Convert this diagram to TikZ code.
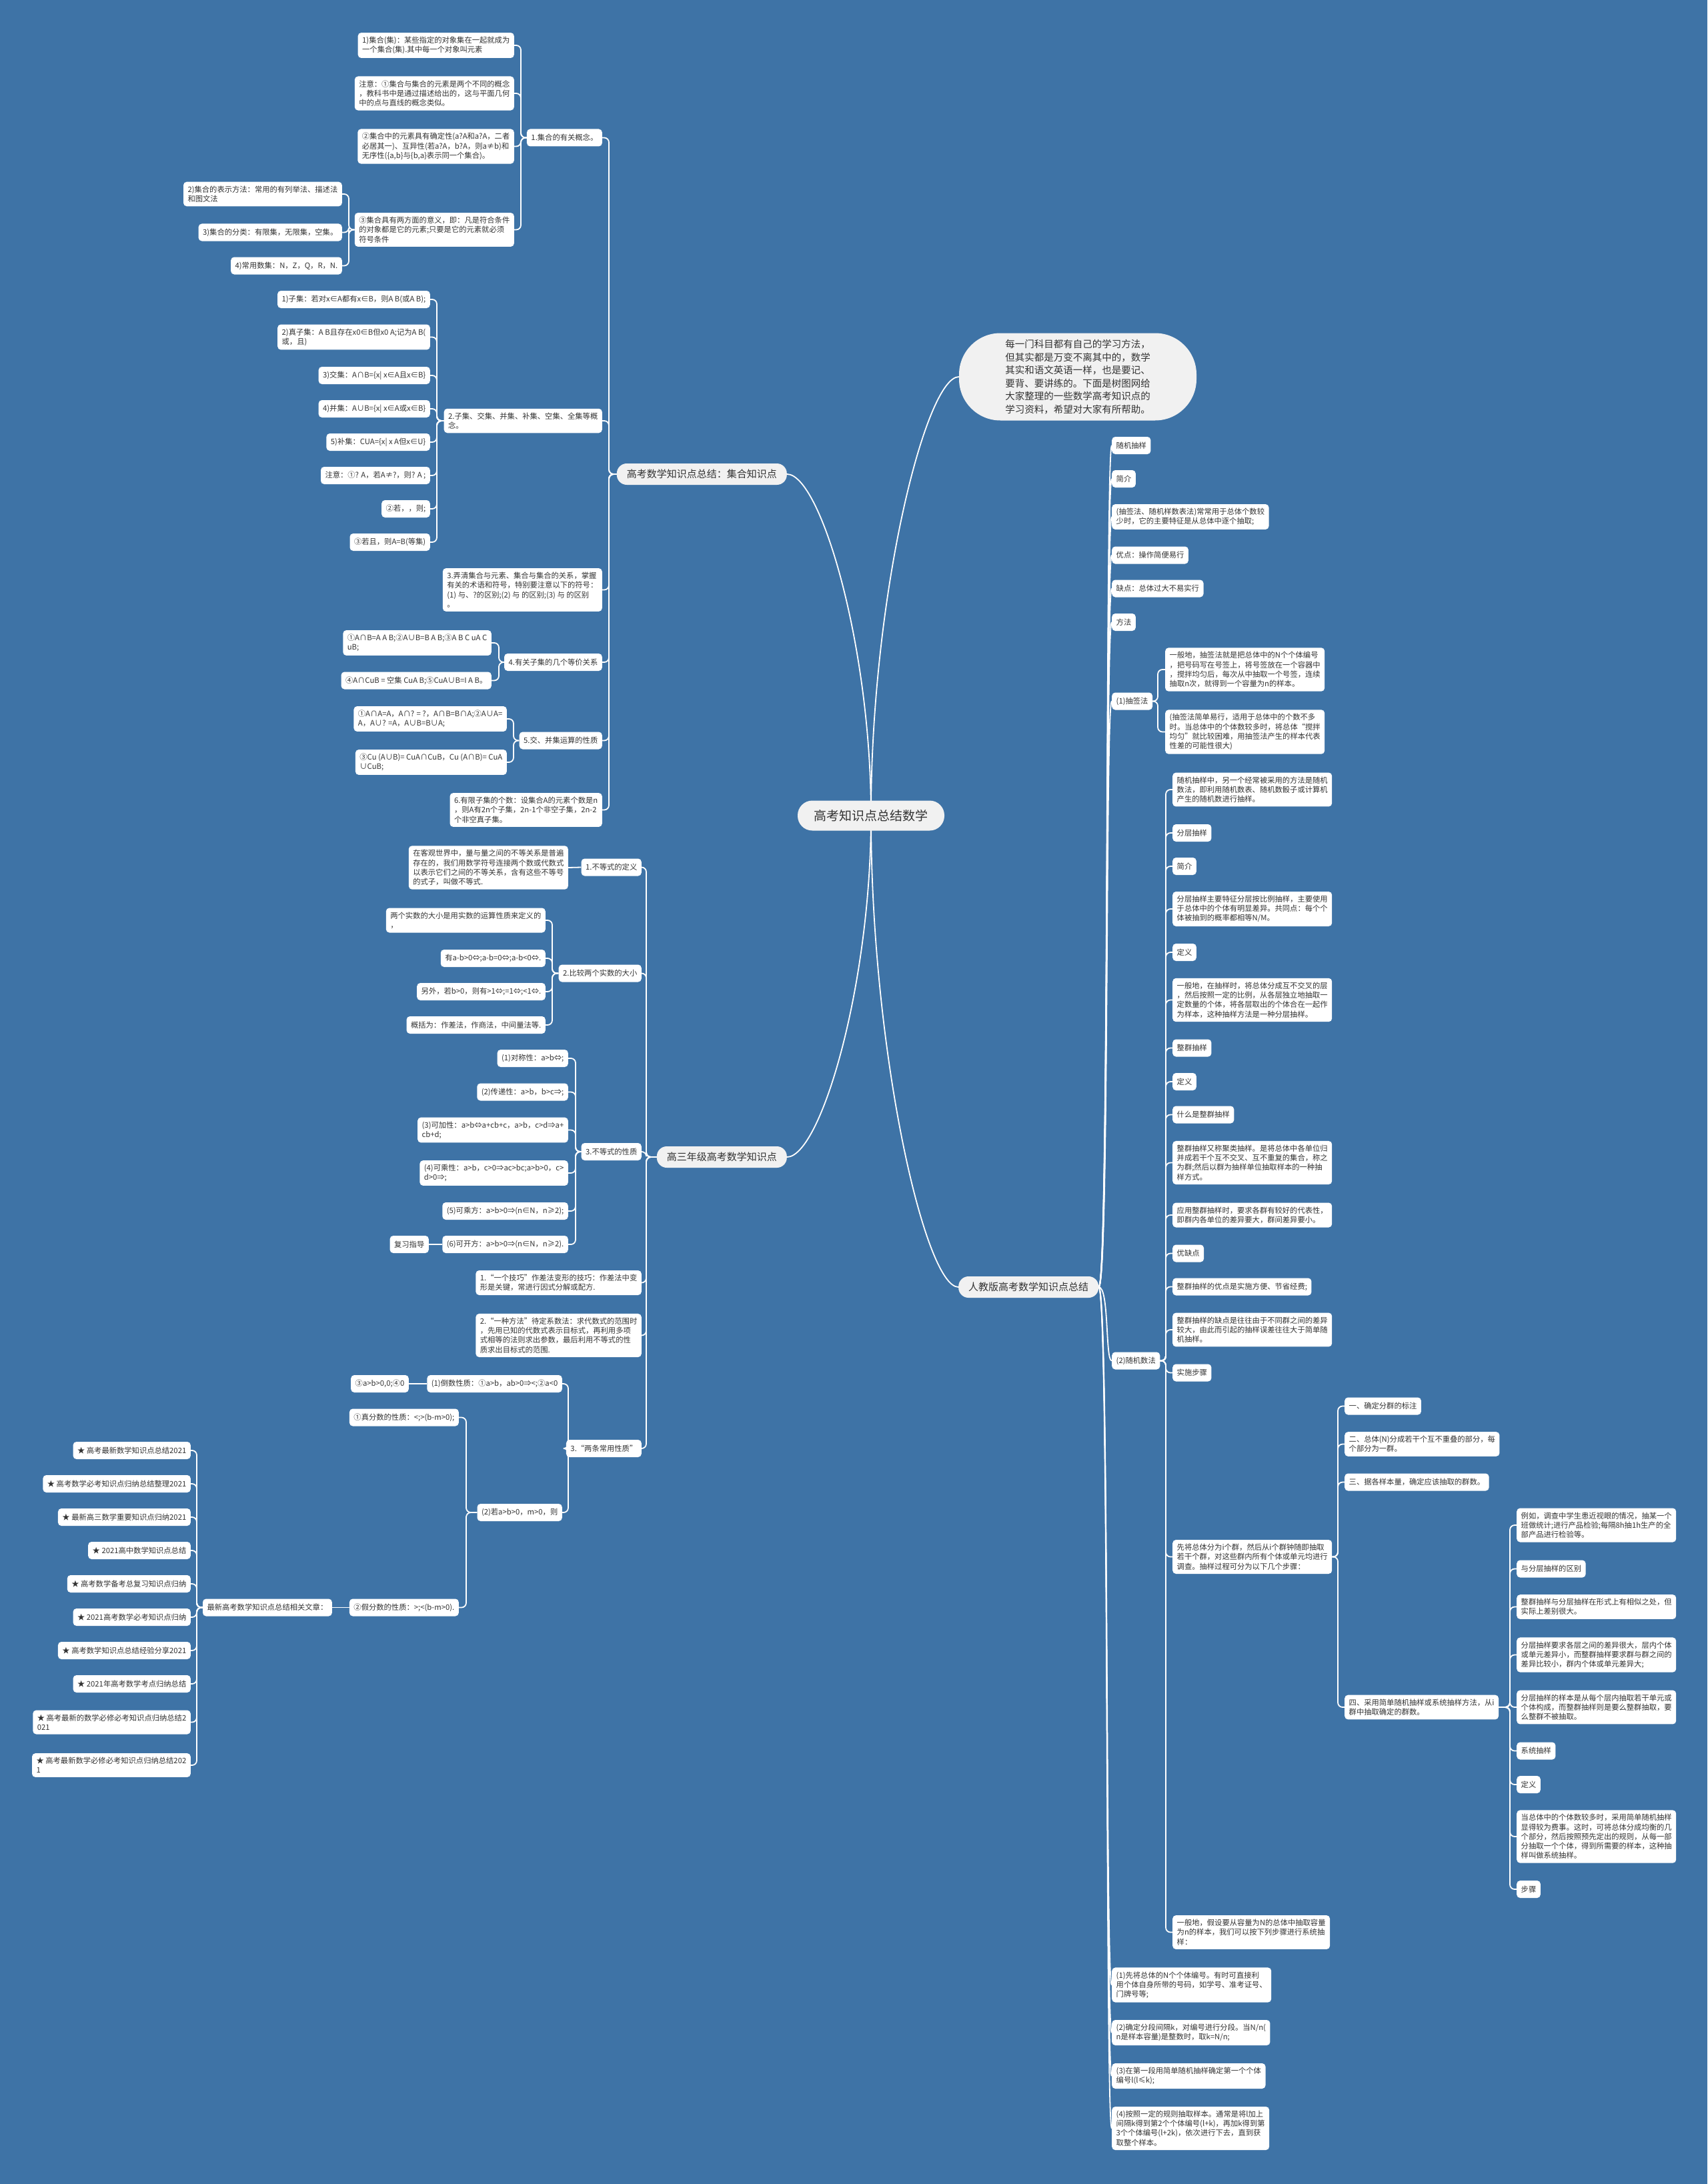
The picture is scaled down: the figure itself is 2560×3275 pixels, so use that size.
\documentclass[tikz,border=0pt]{standalone}
\usepackage{fontspec}
\setmainfont{Noto Sans CJK SC}
\usetikzlibrary{positioning,backgrounds}

\definecolor{bgblue}{HTML}{3E73A6}
\definecolor{lvlfill}{HTML}{F1F1F1}
\definecolor{inktext}{HTML}{333333}
\newcommand\leaffont{\fontsize{11.3}{14.2}\selectfont}
\newcommand\lvlfont{\fontsize{15}{18}\selectfont}
\newcommand\rootfont{\fontsize{19}{22}\selectfont}
\newcommand\introfont{\fontsize{14.5}{19.5}\selectfont}

\begin{document}
\begin{tikzpicture}[x=1pt,y=-1pt,
  leaf/.style={fill=white,rounded corners=5pt,align=left,font=\leaffont,text=inktext,
               inner xsep=6.5pt,inner ysep=6pt,minimum height=26pt},
  lvl/.style={fill=lvlfill,rounded corners=15pt,font=\lvlfont,text=inktext,
              inner xsep=15pt,minimum height=32pt},
  link/.style={draw=white,line width=1.8pt,rounded corners=7pt},
  curvelink/.style={draw=white,line width=1.8pt}
]
\useasboundingbox (0,0) rectangle (2560,3275);

% ---- centre ----
\node[fill=lvlfill,rounded corners=22pt,font=\rootfont,text=inktext,
      minimum width=220pt,minimum height=45pt] (root) at (1306,1223) {高考知识点总结数学};
\node[lvl,anchor=east] (set) at (1180,711) {高考数学知识点总结：集合知识点};
\node[lvl,anchor=east] (ineq) at (1180,1735) {高三年级高考数学知识点};
\node[fill=lvlfill,rounded corners=62pt,font=\introfont,text=inktext,align=left,
      minimum width=356pt,minimum height=131pt] (intro) at (1616,565)
     {每一门科目都有自己的学习方法，\\但其实都是万变不离其中的，数学\\其实和语文英语一样，也是要记、\\要背、要讲练的。下面是树图网给\\大家整理的一些数学高考知识点的\\学习资料，希望对大家有所帮助。};
\node[lvl,anchor=west] (pep) at (1437,1930) {人教版高考数学知识点总结};

% ---- sets ----
\node[leaf,anchor=east] (p1) at (903,206.5) {1.集合的有关概念。};
\node[leaf,anchor=east] (p2) at (903,631) {2.子集、交集、并集、补集、空集、全集等概\\念。};
\node[leaf,anchor=east] (p3) at (903,884.5) {3.弄清集合与元素、集合与集合的关系，掌握\\有关的术语和符号，特别要注意以下的符号：\\(1) 与、?的区别;(2) 与 的区别;(3) 与 的区别\\。};
\node[leaf,anchor=east] (p4) at (903,993) {4.有关子集的几个等价关系};
\node[leaf,anchor=east] (p5) at (903,1110.5) {5.交、并集运算的性质};
\node[leaf,anchor=east] (p6) at (903,1214.5) {6.有限子集的个数：设集合A的元素个数是n\\，则A有2n个子集，2n-1个非空子集，2n-2\\个非空真子集。};

\node[leaf,anchor=east] (a1) at (771,68) {1)集合(集)：某些指定的对象集在一起就成为\\一个集合(集).其中每一个对象叫元素};
\node[leaf,anchor=east] (a2) at (771,140) {注意：①集合与集合的元素是两个不同的概念\\，教科书中是通过描述给出的，这与平面几何\\中的点与直线的概念类似。};
\node[leaf,anchor=east] (a3) at (771,219.5) {②集合中的元素具有确定性(a?A和a?A，二者\\必居其一)、互异性(若a?A，b?A，则a≠b)和\\无序性(\{a,b\}与\{b,a\}表示同一个集合)。};
\node[leaf,anchor=east] (a4) at (771,344.5) {③集合具有两方面的意义，即：凡是符合条件\\的对象都是它的元素;只要是它的元素就必须\\符号条件};
\node[leaf,anchor=east] (al1) at (513,291) {2)集合的表示方法：常用的有列举法、描述法\\和图文法};
\node[leaf,anchor=east] (al2) at (513,348.5) {3)集合的分类：有限集，无限集，空集。};
\node[leaf,anchor=east] (al3) at (513,398.5) {4)常用数集：N，Z，Q，R，N.};

\node[leaf,anchor=east] (b1) at (645,449) {1)子集：若对x∈A都有x∈B，则A B(或A B);};
\node[leaf,anchor=east] (b2) at (645,505.5) {2)真子集：A B且存在x0∈B但x0 A;记为A B(\\或，且)};
\node[leaf,anchor=east] (b3) at (645,563) {3)交集：A∩B=\{x| x∈A且x∈B\}};
\node[leaf,anchor=east] (b4) at (645,613) {4)并集：A∪B=\{x| x∈A或x∈B\}};
\node[leaf,anchor=east] (b5) at (645,663) {5)补集：CUA=\{x| x A但x∈U\}};
\node[leaf,anchor=east] (b6) at (645,713) {注意：①? A，若A≠?，则? A ;};
\node[leaf,anchor=east] (b7) at (645,763) {②若，，则;};
\node[leaf,anchor=east] (b8) at (645,813) {③若且，则A=B(等集)};

\node[leaf,anchor=east] (c1) at (737,964) {①A∩B=A A B;②A∪B=B A B;③A B C uA C\\uB;};
\node[leaf,anchor=east] (c2) at (737,1020.5) {④A∩CuB = 空集 CuA B;⑤CuA∪B=I A B。};
\node[leaf,anchor=east] (d1) at (760,1078) {①A∩A=A，A∩? = ?，A∩B=B∩A;②A∪A=\\A，A∪? =A，A∪B=B∪A;};
\node[leaf,anchor=east] (d2) at (760,1143) {③Cu (A∪B)= CuA∩CuB，Cu (A∩B)= CuA\\∪CuB;};

% ---- inequalities ----
\node[leaf,anchor=east] (q1) at (962,1300.5) {1.不等式的定义};
\node[leaf,anchor=east] (q2) at (962,1459.5) {2.比较两个实数的大小};
\node[leaf,anchor=east] (q3) at (962,1727) {3.不等式的性质};
\node[leaf,anchor=east] (q4) at (962,1923.5) {1.“一个技巧”作差法变形的技巧：作差法中变\\形是关键，常进行因式分解或配方.};
\node[leaf,anchor=east] (q5) at (962,2002.5) {2.“一种方法”待定系数法：求代数式的范围时\\，先用已知的代数式表示目标式，再利用多项\\式相等的法则求出参数，最后利用不等式的性\\质求出目标式的范围.};
\node[leaf,anchor=east] (q6) at (962,2172) {3.“两条常用性质”};

\node[leaf,anchor=east] (e0) at (852,1301) {在客观世界中，量与量之间的不等关系是普遍\\存在的，我们用数学符号连接两个数或代数式\\以表示它们之间的不等关系，含有这些不等号\\的式子，叫做不等式.};
\node[leaf,anchor=east] (e1) at (818,1380) {两个实数的大小是用实数的运算性质来定义的\\，};
\node[leaf,anchor=east] (e2) at (818,1437) {有a-b>0⇔;a-b=0⇔;a-b<0⇔.};
\node[leaf,anchor=east] (e3) at (818,1487) {另外，若b>0，则有>1⇔;=1⇔;<1⇔.};
\node[leaf,anchor=east] (e4) at (818,1537) {概括为：作差法，作商法，中间量法等.};

\node[leaf,anchor=east] (f1) at (852,1587) {(1)对称性：a>b⇔;};
\node[leaf,anchor=east] (f2) at (852,1637.5) {(2)传递性：a>b，b>c⇒;};
\node[leaf,anchor=east] (f3) at (852,1694.5) {(3)可加性：a>b⇔a+cb+c，a>b，c>d⇒a+\\cb+d;};
\node[leaf,anchor=east] (f4) at (852,1759) {(4)可乘性：a>b，c>0⇒ac>bc;a>b>0，c>\\d>0⇒;};
\node[leaf,anchor=east] (f5) at (852,1816) {(5)可乘方：a>b>0⇒(n∈N，n≥2);};
\node[leaf,anchor=east] (f6) at (852,1866) {(6)可开方：a>b>0⇒(n∈N，n≥2).};
\node[leaf,anchor=east] (rev) at (643,1866) {复习指导};

\node[leaf,anchor=east] (h2) at (843,2075) {(1)倒数性质：①a>b，ab>0⇒<;②a<0};
\node[leaf,anchor=east] (h1) at (613,2075) {③a>b>0,0;④0};
\node[leaf,anchor=east] (h4) at (843,2268) {(2)若a>b>0，m>0，则};
\node[leaf,anchor=east] (h3) at (688,2125.5) {①真分数的性质：<;>(b-m>0);};
\node[leaf,anchor=east] (h5) at (688,2410.5) {②假分数的性质：>;<(b-m>0).};
\node[leaf,anchor=east] (h6) at (498,2410.5) {最新高考数学知识点总结相关文章：};

\node[leaf,anchor=east] (s1) at (286,2175) {★ 高考最新数学知识点总结2021};
\node[leaf,anchor=east] (s2) at (286,2225) {★ 高考数学必考知识点归纳总结整理2021};
\node[leaf,anchor=east] (s3) at (286,2275) {★ 最新高三数学重要知识点归纳2021};
\node[leaf,anchor=east] (s4) at (286,2325) {★ 2021高中数学知识点总结};
\node[leaf,anchor=east] (s5) at (286,2375) {★ 高考数学备考总复习知识点归纳};
\node[leaf,anchor=east] (s6) at (286,2425) {★ 2021高考数学必考知识点归纳};
\node[leaf,anchor=east] (s7) at (286,2475) {★ 高考数学知识点总结经验分享2021};
\node[leaf,anchor=east] (s8) at (286,2525) {★ 2021年高考数学考点归纳总结};
\node[leaf,anchor=east] (s9) at (286,2582.5) {★ 高考最新的数学必修必考知识点归纳总结2\\021};
\node[leaf,anchor=east] (s10) at (286,2647) {★ 高考最新数学必修必考知识点归纳总结202\\1};

% ---- sampling ----
\node[leaf,anchor=west] (r1) at (1667,668) {随机抽样};
\node[leaf,anchor=west] (r2) at (1667,718) {简介};
\node[leaf,anchor=west] (r3) at (1667,775) {(抽签法、随机样数表法)常常用于总体个数较\\少时，它的主要特征是从总体中逐个抽取;};
\node[leaf,anchor=west] (r4) at (1667,832.5) {优点：操作简便易行};
\node[leaf,anchor=west] (r5) at (1667,882.5) {缺点：总体过大不易实行};
\node[leaf,anchor=west] (r6) at (1667,933) {方法};
\node[leaf,anchor=west] (r7) at (1667,1051.5) {(1)抽签法};
\node[leaf,anchor=west] (r8) at (1667,2040.5) {(2)随机数法};
\node[leaf,anchor=west] (r9) at (1667,2976.5) {(1)先将总体的N个个体编号。有时可直接利\\用个体自身所带的号码，如学号、准考证号、\\门牌号等;};
\node[leaf,anchor=west] (r10) at (1667,3048) {(2)确定分段间隔k，对编号进行分段。当N/n(\\n是样本容量)是整数时，取k=N/n;};
\node[leaf,anchor=west] (r11) at (1667,3113) {(3)在第一段用简单随机抽样确定第一个个体\\编号l(l≤k);};
\node[leaf,anchor=west] (r12) at (1667,3191.5) {(4)按照一定的规则抽取样本。通常是将l加上\\间隔k得到第2个个体编号(l+k)，再加k得到第\\3个个体编号(l+2k)，依次进行下去，直到获\\取整个样本。};

\node[leaf,anchor=west] (r7a) at (1747,1004) {一般地，抽签法就是把总体中的N个个体编号\\，把号码写在号签上，将号签放在一个容器中\\，搅拌均匀后，每次从中抽取一个号签，连续\\抽取n次，就得到一个容量为n的样本。};
\node[leaf,anchor=west] (r7b) at (1747,1097.5) {(抽签法简单易行，适用于总体中的个数不多\\时。当总体中的个体数较多时，将总体“搅拌\\均匀”就比较困难，用抽签法产生的样本代表\\性差的可能性很大)};

\node[leaf,anchor=west] (t1) at (1758,1184) {随机抽样中，另一个经常被采用的方法是随机\\数法，即利用随机数表、随机数骰子或计算机\\产生的随机数进行抽样。};
\node[leaf,anchor=west] (t2) at (1758,1249) {分层抽样};
\node[leaf,anchor=west] (t3) at (1758,1299) {简介};
\node[leaf,anchor=west] (t4) at (1758,1363) {分层抽样主要特征分层按比例抽样，主要使用\\于总体中的个体有明显差异。共同点：每个个\\体被抽到的概率都相等N/M。};
\node[leaf,anchor=west] (t5) at (1758,1428) {定义};
\node[leaf,anchor=west] (t6) at (1758,1499.5) {一般地，在抽样时，将总体分成互不交叉的层\\，然后按照一定的比例，从各层独立地抽取一\\定数量的个体，将各层取出的个体合在一起作\\为样本，这种抽样方法是一种分层抽样。};
\node[leaf,anchor=west] (t7) at (1758,1571.5) {整群抽样};
\node[leaf,anchor=west] (t8) at (1758,1622) {定义};
\node[leaf,anchor=west] (t9) at (1758,1671.5) {什么是整群抽样};
\node[leaf,anchor=west] (t10) at (1758,1743.5) {整群抽样又称聚类抽样。是将总体中各单位归\\并成若干个互不交叉、互不重复的集合，称之\\为群;然后以群为抽样单位抽取样本的一种抽\\样方式。};
\node[leaf,anchor=west] (t11) at (1758,1822) {应用整群抽样时，要求各群有较好的代表性，\\即群内各单位的差异要大，群间差异要小。};
\node[leaf,anchor=west] (t12) at (1758,1879.5) {优缺点};
\node[leaf,anchor=west] (t13) at (1758,1929.5) {整群抽样的优点是实施方便、节省经费;};
\node[leaf,anchor=west] (t14) at (1758,1994) {整群抽样的缺点是往往由于不同群之间的差异\\较大，由此而引起的抽样误差往往大于简单随\\机抽样。};
\node[leaf,anchor=west] (t15) at (1758,2058.5) {实施步骤};
\node[leaf,anchor=west] (t16) at (1758,2334.5) {先将总体分为i个群，然后从i个群钟随即抽取\\若干个群，对这些群内所有个体或单元均进行\\调查。抽样过程可分为以下几个步骤：};
\node[leaf,anchor=west] (t17) at (1758,2897.5) {一般地，假设要从容量为N的总体中抽取容量\\为n的样本，我们可以按下列步骤进行系统抽\\样：};

\node[leaf,anchor=west] (u1) at (2016,2108.5) {一、确定分群的标注};
\node[leaf,anchor=west] (u2) at (2016,2165.5) {二、总体(N)分成若干个互不重叠的部分，每\\个部分为一群。};
\node[leaf,anchor=west] (u3) at (2016,2222.5) {三、据各样本量，确定应该抽取的群数。};
\node[leaf,anchor=west] (u4) at (2016,2560) {四、采用简单随机抽样或系统抽样方法，从i\\群中抽取确定的群数。};

\node[leaf,anchor=west] (v1) at (2274,2287) {例如，调查中学生患近视眼的情况，抽某一个\\班做统计;进行产品检验;每隔8h抽1h生产的全\\部产品进行检验等。};
\node[leaf,anchor=west] (v2) at (2274,2352.5) {与分层抽样的区别};
\node[leaf,anchor=west] (v3) at (2274,2409.5) {整群抽样与分层抽样在形式上有相似之处，但\\实际上差别很大。};
\node[leaf,anchor=west] (v4) at (2274,2481.5) {分层抽样要求各层之间的差异很大，层内个体\\或单元差异小，而整群抽样要求群与群之间的\\差异比较小，群内个体或单元差异大;};
\node[leaf,anchor=west] (v5) at (2274,2560) {分层抽样的样本是从每个层内抽取若干单元或\\个体构成，而整群抽样则是要么整群抽取，要\\么整群不被抽取。};
\node[leaf,anchor=west] (v6) at (2274,2625.5) {系统抽样};
\node[leaf,anchor=west] (v7) at (2274,2676) {定义};
\node[leaf,anchor=west] (v8) at (2274,2754) {当总体中的个体数较多时，采用简单随机抽样\\显得较为费事。这时，可将总体分成均衡的几\\个部分，然后按照预先定出的规则，从每一部\\分抽取一个个体，得到所需要的样本，这种抽\\样叫做系统抽样。};
\node[leaf,anchor=west] (v9) at (2274,2833) {步骤};

% ---- spines ----
\coordinate (spset) at (913,0);
\coordinate (spa) at (781,0);
\coordinate (spal) at (523,0);
\coordinate (spb) at (655,0);
\coordinate (spc) at (748,0);
\coordinate (spd) at (770,0);
\coordinate (spq) at (969,0);
\coordinate (spe) at (828,0);
\coordinate (spf) at (863,0);
\coordinate (sph) at (852,0);
\coordinate (sphh) at (699,0);
\coordinate (sps) at (295,0);
\coordinate (spr) at (1736,0);
\coordinate (spt) at (1748,0);
\coordinate (spu) at (2006,0);
\coordinate (spv) at (2264,0);

\begin{scope}[on background layer]
\fill[bgblue] (0,0) rectangle (2560,3275);
\draw[curvelink] (root.center) .. controls +(0,-256) and +(50,0) .. (set.east);
\draw[curvelink] (root.center) .. controls +(0,256) and +(50,0) .. (ineq.east);
\draw[curvelink] (root.center) .. controls +(0,-329) and +(-50,0) .. (intro.west);
\draw[curvelink] (root.center) .. controls +(0,354) and +(-50,0) .. (pep.west);

\foreach \k in {p1,p2,p3,p4,p5,p6}
  \draw[link] (set.west) -- (set.west -| spset) |- (\k.east);
\foreach \k in {a1,a2,a3,a4}
  \draw[link] (p1.west) -- (p1.west -| spa) |- (\k.east);
\foreach \k in {al1,al2,al3}
  \draw[link] (a4.west) -- (a4.west -| spal) |- (\k.east);
\foreach \k in {b1,b2,b3,b4,b5,b6,b7,b8}
  \draw[link] (p2.west) -- (p2.west -| spb) |- (\k.east);
\foreach \k in {c1,c2}
  \draw[link] (p4.west) -- (p4.west -| spc) |- (\k.east);
\foreach \k in {d1,d2}
  \draw[link] (p5.west) -- (p5.west -| spd) |- (\k.east);

\foreach \k in {q1,q2,q3,q4,q5,q6}
  \draw[link] (ineq.west) -- (ineq.west -| spq) |- (\k.east);
\draw[link] (q1.west) -- (e0.east);
\foreach \k in {e1,e2,e3,e4}
  \draw[link] (q2.west) -- (q2.west -| spe) |- (\k.east);
\foreach \k in {f1,f2,f3,f4,f5,f6}
  \draw[link] (q3.west) -- (q3.west -| spf) |- (\k.east);
\draw[link] (f6.west) -- (rev.east);
\foreach \k in {h2,h4}
  \draw[link] (q6.west) -- (q6.west -| sph) |- (\k.east);
\draw[link] (h2.west) -- (h1.east);
\foreach \k in {h3,h5}
  \draw[link] (h4.west) -- (h4.west -| sphh) |- (\k.east);
\draw[link] (h5.west) -- (h6.east);
\foreach \k in {s1,s2,s3,s4,s5,s6,s7,s8,s9,s10}
  \draw[link] (h6.west) -- (h6.west -| sps) |- (\k.east);

\foreach \k in {r1,r2,r3,r4,r5,r6,r7,r8,r9,r10,r11,r12}
  \draw[curvelink] (pep.east) .. controls +(16,0) and +(-10,0) .. (\k.west);
\foreach \k in {r7a,r7b}
  \draw[link] (r7.east) -- (r7.east -| spr) |- (\k.west);
\foreach \k in {t1,t2,t3,t4,t5,t6,t7,t8,t9,t10,t11,t12,t13,t14,t15,t16,t17}
  \draw[link] (r8.east) -- (r8.east -| spt) |- (\k.west);
\foreach \k in {u1,u2,u3,u4}
  \draw[link] (t16.east) -- (t16.east -| spu) |- (\k.west);
\foreach \k in {v1,v2,v3,v4,v5,v6,v7,v8,v9}
  \draw[link] (u4.east) -- (u4.east -| spv) |- (\k.west);
\end{scope}

\end{tikzpicture}
\end{document}
